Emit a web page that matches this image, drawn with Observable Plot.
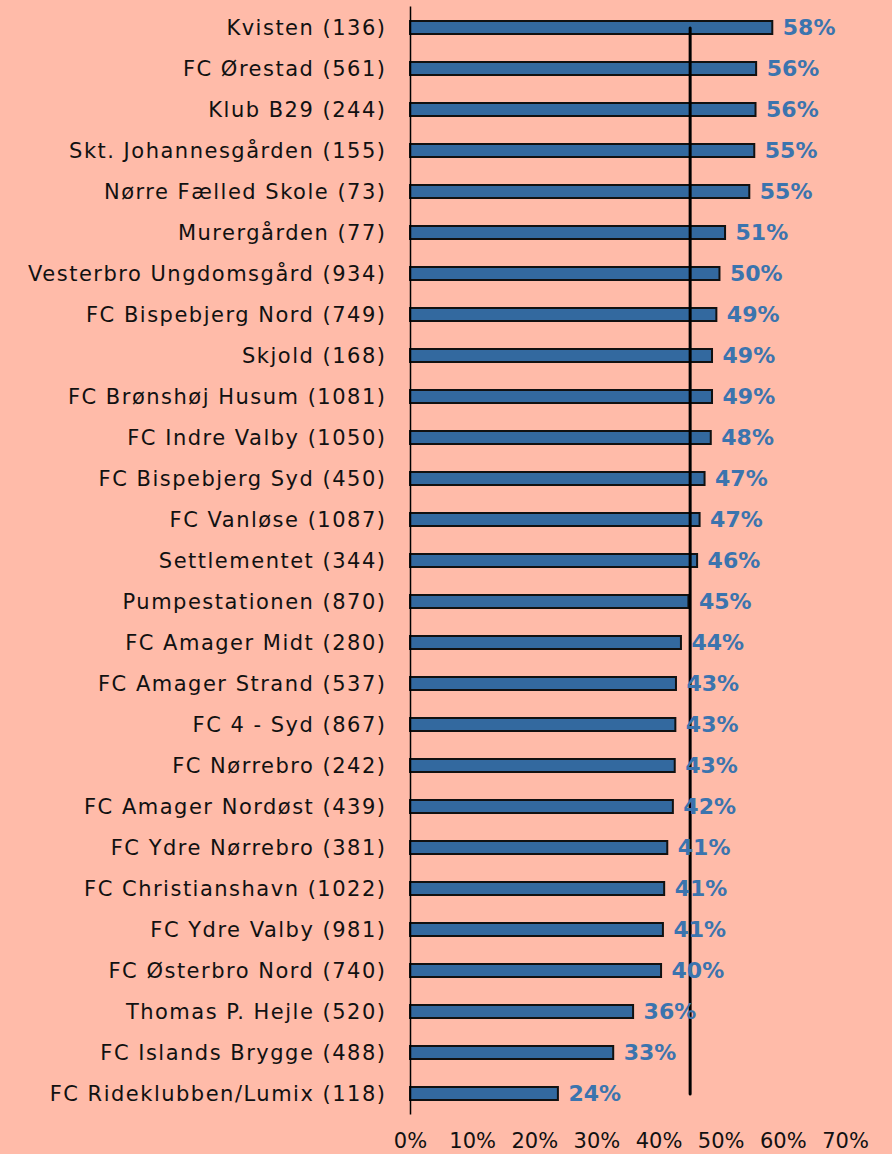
<!DOCTYPE html>
<html>
<head>
<meta charset="utf-8">
<script src="https://cdn.jsdelivr.net/npm/d3@7"></script>
<script src="https://cdn.jsdelivr.net/npm/@observablehq/plot@0.6"></script>
<style>
  html, body { margin: 0; padding: 0; background: #ffbba9; }
  #chart { width: 892px; height: 1154px; }
</style>
</head>
<body>
<div id="chart"></div>
<script>
const clubs = [
  "Kvisten", "FC Ørestad", "Klub B29", "Skt. Johannesgården", "Nørre Fælled Skole",
  "Murergården", "Vesterbro Ungdomsgård", "FC Bispebjerg Nord", "Skjold", "FC Brønshøj Husum",
  "FC Indre Valby", "FC Bispebjerg Syd", "FC Vanløse", "Settlementet", "Pumpestationen",
  "FC Amager Midt", "FC Amager Strand", "FC 4 - Syd", "FC Nørrebro", "FC Amager Nordøst",
  "FC Ydre Nørrebro", "FC Christianshavn", "FC Ydre Valby", "FC Østerbro Nord", "Thomas P. Hejle",
  "FC Islands Brygge", "FC Rideklubben/Lumix"
];
const counts = [136, 561, 244, 155, 73, 77, 934, 749, 168, 1081, 1050, 450, 1087, 344, 870,
  280, 537, 867, 242, 439, 381, 1022, 981, 740, 520, 488, 118];
const shares = [58.3, 55.7, 55.6, 55.4, 54.6, 50.7, 49.8, 49.3, 48.6, 48.6, 48.4, 47.4, 46.6, 46.2, 44.8,
  43.6, 42.8, 42.7, 42.6, 42.3, 41.4, 40.9, 40.7, 40.4, 35.9, 32.7, 23.8];
const average = 45;
const xTicks = [0, 10, 20, 30, 40, 50, 60, 70];

const labels = clubs.map((c, i) => `${c} (${counts[i]})`);
const data = labels.map((l, i) => ({club: l, value: shares[i]}));
const avgLine = [{x: average, y: labels[0]}, {x: average, y: labels[labels.length - 1]}];

const chart = Plot.plot({
  width: 892,
  height: 1154,
  marginLeft: 410,
  marginRight: 47,
  marginTop: 6.5,
  marginBottom: 39.5,
  style: {background: "#ffbba9", fontFamily: "'DejaVu Sans', sans-serif", fontSize: "21px", color: "#111"},
  x: {domain: [0, 70], ticks: xTicks, tickFormat: d => d + "%", tickSize: 0, tickPadding: 18, label: null},
  y: {domain: labels, paddingInner: 0.69, paddingOuter: 0.345, tickSize: 0, tickPadding: 24, label: null},
  marks: [
    Plot.barX(data, {x: "value", y: "club", fill: "#33699f", stroke: "#111", strokeWidth: 2}),
    Plot.ruleX([0], {stroke: "#000", strokeWidth: 1.5}),
    Plot.line(avgLine, {x: "x", y: "y", stroke: "#000", strokeWidth: 3}),
    Plot.text(data, {x: "value", y: "club", text: d => d3.format(".0f")(d.value) + "%", textAnchor: "start", dx: 10,
      fill: "#3b74ae", fontWeight: "bold", fontSize: 22})
  ]
});
document.getElementById("chart").appendChild(chart);
d3.select(chart).selectAll('[aria-label="y-axis tick label"] text').attr("letter-spacing", "1.5px");
</script>
</body>
</html>
